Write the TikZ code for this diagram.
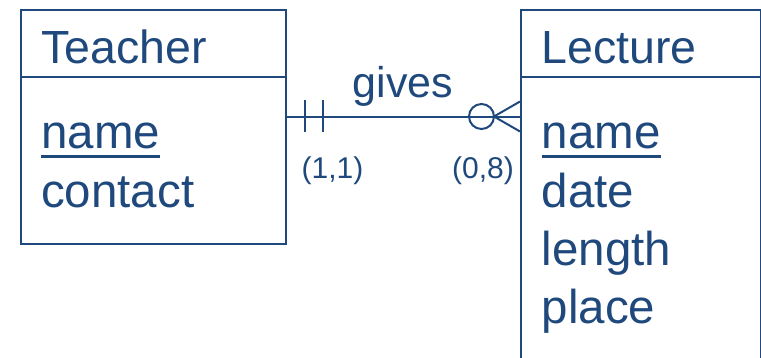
\documentclass[tikz,border=0pt]{standalone}
\usepackage{fontspec}
\setmainfont{Liberation Sans}
\definecolor{erblue}{RGB}{31,73,125}
\begin{document}
\begin{tikzpicture}[x=1pt,y=-1pt,
  ent/.style={draw=erblue,line width=2pt,inner sep=0pt,anchor=north west},
  title/.style={inner sep=0pt,anchor=base west,text=erblue,font=\fontsize{46.5}{46.5}\selectfont},
  big/.style={inner sep=0pt,anchor=base west,text=erblue,font=\fontsize{47.5}{47.5}\selectfont},
  mid/.style={inner sep=0pt,anchor=base west,text=erblue,font=\fontsize{43}{43}\selectfont},
  small/.style={inner sep=0pt,anchor=base west,text=erblue,font=\fontsize{30}{30}\selectfont},
  conn/.style={draw=erblue,line width=2pt}]
\useasboundingbox (0,0) rectangle (761,357);
\clip (0,0) rectangle (761,357);
% entity boxes
\node[ent,minimum width=265pt,minimum height=234pt] (teacher) at (20,9) {};
\node[ent,minimum width=240pt,minimum height=380pt] (lecture) at (520,9) {};
\coordinate (hdr) at (0,77);
\draw[conn] (teacher.west |- hdr) -- (teacher.east |- hdr);
\draw[conn] (lecture.west |- hdr) -- (lecture.east |- hdr);
% texts
\node[title] (tt) at (41,63) {Teacher};
\node[big] (tn) at (41,148) {name};
\node[big] (tc) at (41,207) {contact};
\node[title] (lt) at (541.5,63) {Lecture};
\node[big] (ln) at (541.5,148) {name};
\node[big] (ld) at (541.5,207) {date};
\node[big] (ll) at (541.5,265) {length};
\node[big] (lp) at (541.5,323) {place};
\draw[erblue,line width=3.5pt] ([yshift=-8.5pt]tn.base west) -- ([yshift=-8.5pt]tn.base east);
\draw[erblue,line width=3.5pt] ([yshift=-8.5pt]ln.base west) -- ([yshift=-8.5pt]ln.base east);
% relationship
\coordinate (rel) at (0,116.5);
\coordinate (foot) at (494,116.5);
\draw[conn] (teacher.east |- rel) -- (lecture.west |- rel);
\draw[conn] (305,100) -- (305,132);
\draw[conn] (322.5,100) -- (322.5,132);
\draw[conn] (481.5,116.5) circle (12.5);
\draw[conn] (lecture.west |- 0,101.5) -- (foot) -- (lecture.west |- 0,131.5);
\node[mid] (gives) at (352.5,97) {gives};
\node[small] (c1) at (301.5,178) {(1,1)};
\node[small] (c2) at (452,178) {(0,8)};
\end{tikzpicture}
\end{document}
